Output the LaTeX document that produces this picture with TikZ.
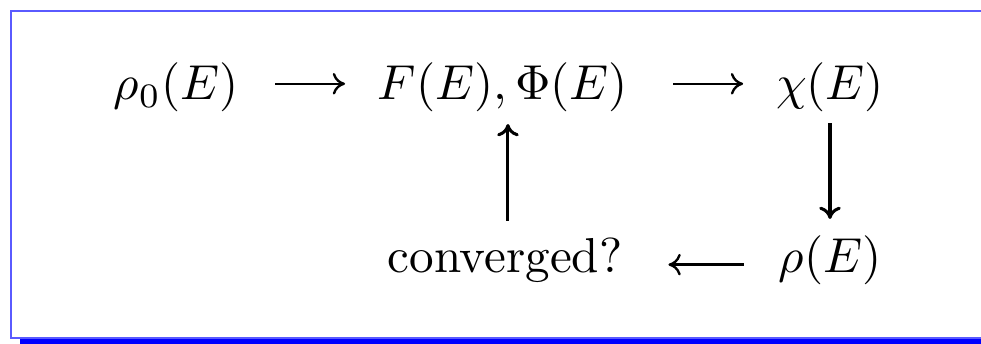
\documentclass[tikz,border=0pt]{standalone}
\usepackage{amsmath}
\usepackage{amssymb}
\usepackage{xcolor}
\usepackage{tikz}
\usetikzlibrary{arrows.meta}
\definecolor{framelineblue}{HTML}{5A5AFF}
\definecolor{shadowblue}{HTML}{0000FF}

\begin{document}
\begin{tikzpicture}[>={Computer Modern Rightarrow[length=2.5pt, width=4.4pt]},
  x=0.2037pt, y=-0.2037pt,
  term/.style={inner sep=0pt, anchor=base, text height=7.5pt, text depth=2.5pt},
  flow/.style={->, line width=0.48pt, shorten <=7.3pt, shorten >=6.5pt},
  drop/.style={->, line width=0.62pt}]
  % page size and frame
  \useasboundingbox (0,0) rectangle (981,344);
  \clip (0,0) rectangle (981,344);
  \fill[shadowblue] (20,338) rectangle (990,350);
  \draw[framelineblue, line width=0.35pt] (990,338) -- (11,338) -- (11,11) -- (990,11);
  % the loop
  \node[term] (rhozero) at (176,100) {$\rho_0(E)$};
  \node[term] (fphi) at (503,100) {$F(E), \Phi(E)$};
  \node[term] (chi) at (830,100) {$\chi(E)$};
  \node[term] (rho) at (830,273) {$\rho(E)$};
  \node[term] (conv) at (505,273) {converged?};
  % arrows
  \draw[flow] ([yshift=0.8pt]rhozero.east) -- ([yshift=0.8pt]fphi.west);
  \draw[flow, shorten <=9pt] ([yshift=0.8pt]fphi.east) -- ([yshift=0.8pt]chi.west);
  \draw[flow, shorten <=6.9pt, shorten >=9.2pt] ([yshift=-0.8pt]rho.west) -- ([yshift=-0.8pt]conv.east);
  \draw[drop, shorten <=2pt, shorten >=3.3pt] (chi.south) -- (rho.north);
  \draw[drop, shorten <=2.9pt, shorten >=2.2pt] ([xshift=0.6pt]conv.north) -- ([xshift=0.6pt]conv.north |- fphi.south);
\end{tikzpicture}
\end{document}
